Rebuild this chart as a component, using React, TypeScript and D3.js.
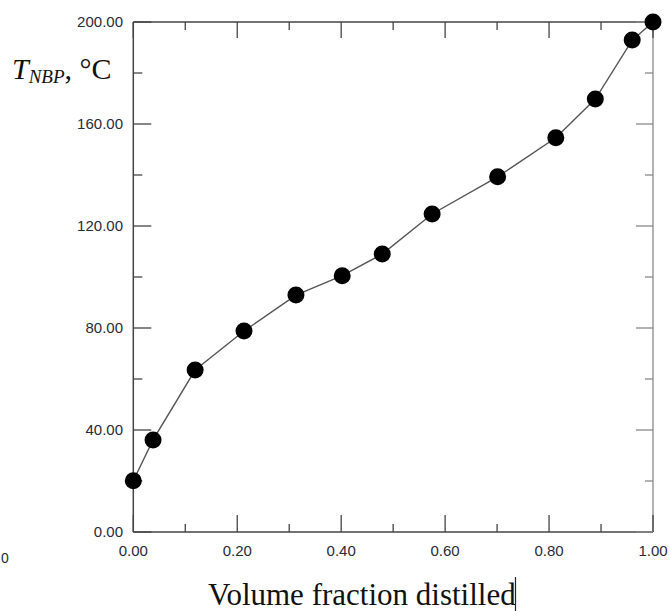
import * as d3 from 'd3';

// volume fraction distilled vs normal boiling point temperature
const fraction = [0, 0.038, 0.119, 0.213, 0.313, 0.402, 0.479, 0.575, 0.701, 0.813, 0.889, 0.96, 1.0];
const tempC = [20.1, 36.1, 63.5, 78.8, 92.9, 100.5, 109.0, 124.7, 139.3, 154.6, 169.8, 192.9, 200];

const xTicks = [0, 0.2, 0.4, 0.6, 0.8, 1.0];
const xMinor = [0.1, 0.3, 0.5, 0.7, 0.9];
const yTicks = [0, 40, 80, 120, 160, 200];
const yMinor = [20, 60, 100, 140, 180];

export default function App() {
  const W = 670;
  const H = 611;
  const left = 133.3;
  const right = 653;
  const top = 22;
  const bottom = 532;

  const x = d3.scaleLinear().domain([0, 1]).range([left, right]);
  const y = d3.scaleLinear().domain([0, 200]).range([bottom, top]);

  const line = d3
    .line<number>()
    .x((_, i) => x(fraction[i]))
    .y((d) => y(d));

  const tickFont = 'Liberation Sans, Arial, sans-serif';
  const serif = 'Liberation Serif, Times New Roman, serif';
  const axisColor = '#444';

  return (
    <svg width={W} height={H} style={{ position: 'absolute', left: 0, top: 0 }}>
      <rect width={W} height={H} fill="#fff" />

      {/* frame */}
      <line x1={left} x2={right} y1={bottom} y2={bottom} stroke={axisColor} strokeWidth={1.5} />
      <line x1={left} x2={left} y1={top} y2={bottom} stroke={axisColor} strokeWidth={1.5} />
      <line x1={left} x2={right} y1={top} y2={top} stroke={axisColor} strokeWidth={1.5} />
      <line x1={right} x2={right} y1={top} y2={bottom} stroke="#999" strokeWidth={1.5} />

      {/* x ticks, bottom and top */}
      {xTicks.map((t) => (
        <g key={'xt' + t}>
          <line x1={x(t)} x2={x(t)} y1={bottom} y2={bottom - 17} stroke={axisColor} strokeWidth={1.3} />
          <line x1={x(t)} x2={x(t)} y1={top} y2={top + 16} stroke={axisColor} strokeWidth={1.3} />
          <text x={x(t)} y={556} textAnchor="middle" fontSize={15} fontFamily={tickFont} fill="#2a2a3a">
            {t.toFixed(2)}
          </text>
        </g>
      ))}
      {xMinor.map((t) => (
        <g key={'xm' + t}>
          <line x1={x(t)} x2={x(t)} y1={bottom} y2={bottom - 8} stroke={axisColor} strokeWidth={1.3} />
          <line x1={x(t)} x2={x(t)} y1={top} y2={top + 8} stroke={axisColor} strokeWidth={1.3} />
        </g>
      ))}

      {/* y ticks, left and right */}
      {yTicks.map((t) => (
        <g key={'yt' + t}>
          <line x1={left} x2={left + 18} y1={y(t)} y2={y(t)} stroke={axisColor} strokeWidth={1.3} />
          <line x1={right} x2={right - 17} y1={y(t)} y2={y(t)} stroke="#888" strokeWidth={1.3} />
          <text x={123} y={y(t) + 5} textAnchor="end" fontSize={15} fontFamily={tickFont} fill="#2a2a3a">
            {t.toFixed(2)}
          </text>
        </g>
      ))}
      {yMinor.map((t) => (
        <g key={'ym' + t}>
          <line x1={left} x2={left + 9} y1={y(t)} y2={y(t)} stroke={axisColor} strokeWidth={1.3} />
          <line x1={right} x2={right - 8} y1={y(t)} y2={y(t)} stroke="#888" strokeWidth={1.3} />
        </g>
      ))}

      {/* data */}
      <path d={line(tempC) ?? ''} fill="none" stroke="#555" strokeWidth={1.4} />
      {tempC.map((d, i) => (
        <circle key={i} cx={x(fraction[i])} cy={y(d)} r={8.5} fill="#000" />
      ))}

      {/* stray label fragment at far left, as in the source */}
      <text x={1} y={563} fontSize={14} fontFamily={tickFont} fill="#2a2a3a">
        0
      </text>

      {/* axis titles */}
      <text x={12} y={79} fontFamily={serif} fontSize={30} fill="#111">
        <tspan fontStyle="italic">T</tspan>
        <tspan fontStyle="italic" fontSize={19} dy={4}>NBP</tspan>
        <tspan dy={-4}>, °C</tspan>
      </text>
      <text x={208} y={605} fontFamily={serif} fontSize={31} fill="#111">
        Volume fraction distilled
      </text>
      <line x1={515.5} x2={515.5} y1={577} y2={611} stroke="#222" strokeWidth={1.2} />
    </svg>
  );
}
